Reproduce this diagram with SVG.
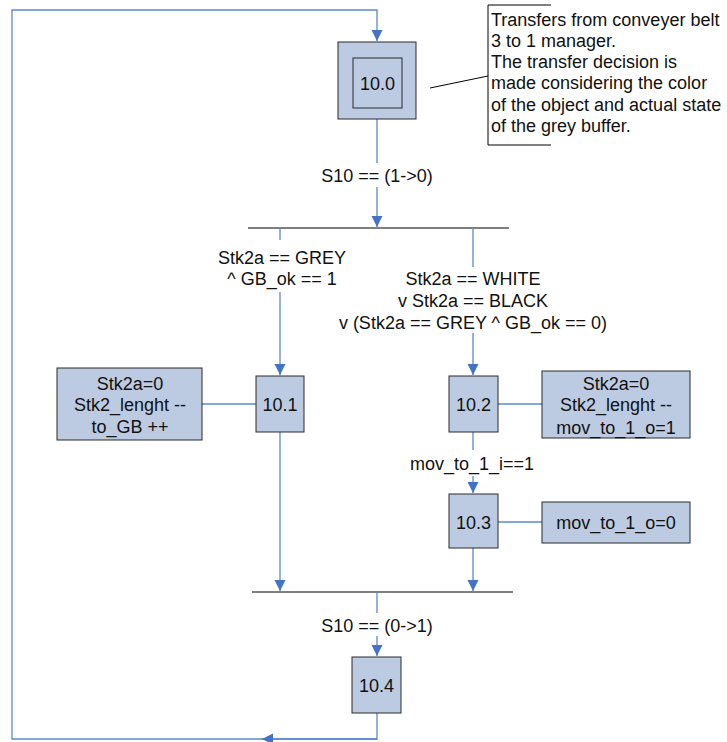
<svg xmlns="http://www.w3.org/2000/svg" width="727" height="742" viewBox="0 0 727 742">
  <style>
    .step { fill: #BCCBE1; stroke: #2b2b2b; stroke-width: 1; }
    .act { fill: #BCCBE1; stroke: #2b2b2b; stroke-width: 1; }
    .flow { fill: none; stroke: #5D88D0; stroke-width: 1.3; }
    .bar { stroke: #000; stroke-width: 1.2; }
    .note { fill: none; stroke: #000; stroke-width: 1; }
    text { font-family: "Liberation Sans", Arial, sans-serif; font-size: 18px; fill: #111; }
    .c { text-anchor: middle; }
  </style>
  <defs>
    <marker id="arr" markerUnits="userSpaceOnUse" markerWidth="14" markerHeight="14" viewBox="0 0 14 14" refX="12" refY="7" orient="auto">
      <path d="M1,1.5 L12,7 L1,12.5 Z" fill="#4472C4"/>
    </marker>
  </defs>

  <!-- connectors -->
  <g id="connectors">
    <!-- loop back from 10.4 to 10.0 -->
    <path class="flow" d="M377,713 V739 H12 V10 H377 V41" marker-end="url(#arr)"/>
    <path class="flow" d="M377,739 H262" marker-end="url(#arr)"/>
    <!-- 10.0 to split bar -->
    <path class="flow" d="M377,119 V163"/>
    <path class="flow" d="M377,187 V227" marker-end="url(#arr)"/>
    <line class="bar" x1="248" y1="228" x2="509" y2="228"/>
    <!-- left branch -->
    <path class="flow" d="M280,228 V240"/>
    <path class="flow" d="M280,292 V375" marker-end="url(#arr)"/>
    <!-- right branch -->
    <path class="flow" d="M473,228 V267"/>
    <path class="flow" d="M473,333 V375" marker-end="url(#arr)"/>
    <!-- 10.2 to 10.3 -->
    <path class="flow" d="M473,432 V450"/>
    <path class="flow" d="M473,476 V493" marker-end="url(#arr)"/>
    <!-- to join bar -->
    <path class="flow" d="M280,432 V591" marker-end="url(#arr)"/>
    <path class="flow" d="M473,548 V591" marker-end="url(#arr)"/>
    <line class="bar" x1="252" y1="592" x2="513" y2="592"/>
    <path class="flow" d="M377,592 V613"/>
    <path class="flow" d="M377,636 V656" marker-end="url(#arr)"/>
    <!-- actions -->
    <line class="flow" x1="202" y1="404" x2="256" y2="404"/>
    <line class="flow" x1="498" y1="404" x2="542" y2="404"/>
    <line class="flow" x1="498" y1="522" x2="542" y2="522"/>
    <!-- note callout -->
    <line class="note" x1="430" y1="88" x2="488" y2="76"/>
  </g>

  <!-- transition labels -->
  <g id="labels">
    <text class="c" x="377" y="182">S10 == (1-&gt;0)</text>
    <text class="c" x="282" y="264">Stk2a == GREY</text>
    <text class="c" x="282" y="285">^ GB_ok == 1</text>
    <text class="c" x="473" y="285">Stk2a == WHITE</text>
    <text class="c" x="473" y="307">v Stk2a == BLACK</text>
    <text class="c" x="473" y="329">v (Stk2a == GREY ^ GB_ok == 0)</text>
    <text class="c" x="472" y="470">mov_to_1_i==1</text>
    <text class="c" x="377" y="632">S10 == (0-&gt;1)</text>
  </g>

  <!-- initial step -->
  <g id="step-10-0">
    <rect class="step" x="338" y="42" width="78" height="77"/>
    <rect class="step" x="353" y="58" width="49" height="50"/>
    <text class="c" x="377.5" y="90">10.0</text>
  </g>

  <g id="note">
    <path class="note" d="M551,5 H488 V145 H551"/>
    <text x="491" y="26">Transfers from conveyer belt</text>
    <text x="491" y="47">3 to 1 manager.</text>
    <text x="491" y="68">The transfer decision is</text>
    <text x="491" y="89">made considering the color</text>
    <text x="491" y="111">of the object and actual state</text>
    <text x="491" y="132">of the grey buffer.</text>
  </g>

  <g id="step-10-1">
    <rect class="step" x="256" y="376" width="48" height="56"/>
    <text class="c" x="280" y="411">10.1</text>
  </g>
  <g id="action-10-1">
    <rect class="act" x="57" y="368" width="145" height="72"/>
    <text class="c" x="130" y="390">Stk2a=0</text>
    <text class="c" x="130" y="411">Stk2_lenght --</text>
    <text class="c" x="130" y="433">to_GB ++</text>
  </g>

  <g id="step-10-2">
    <rect class="step" x="449" y="376" width="49" height="56"/>
    <text class="c" x="473.5" y="411">10.2</text>
  </g>
  <g id="action-10-2">
    <rect class="act" x="542" y="371" width="148" height="67"/>
    <text class="c" x="616" y="390">Stk2a=0</text>
    <text class="c" x="616" y="411">Stk2_lenght --</text>
    <text class="c" x="616" y="434">mov_to_1_o=1</text>
  </g>

  <g id="step-10-3">
    <rect class="step" x="449" y="494" width="49" height="54"/>
    <text class="c" x="473.5" y="529">10.3</text>
  </g>
  <g id="action-10-3">
    <rect class="act" x="542" y="502" width="148" height="41"/>
    <text class="c" x="616" y="529">mov_to_1_o=0</text>
  </g>

  <g id="step-10-4">
    <rect class="step" x="352" y="657" width="49" height="56"/>
    <text class="c" x="376.5" y="692">10.4</text>
  </g>
</svg>
